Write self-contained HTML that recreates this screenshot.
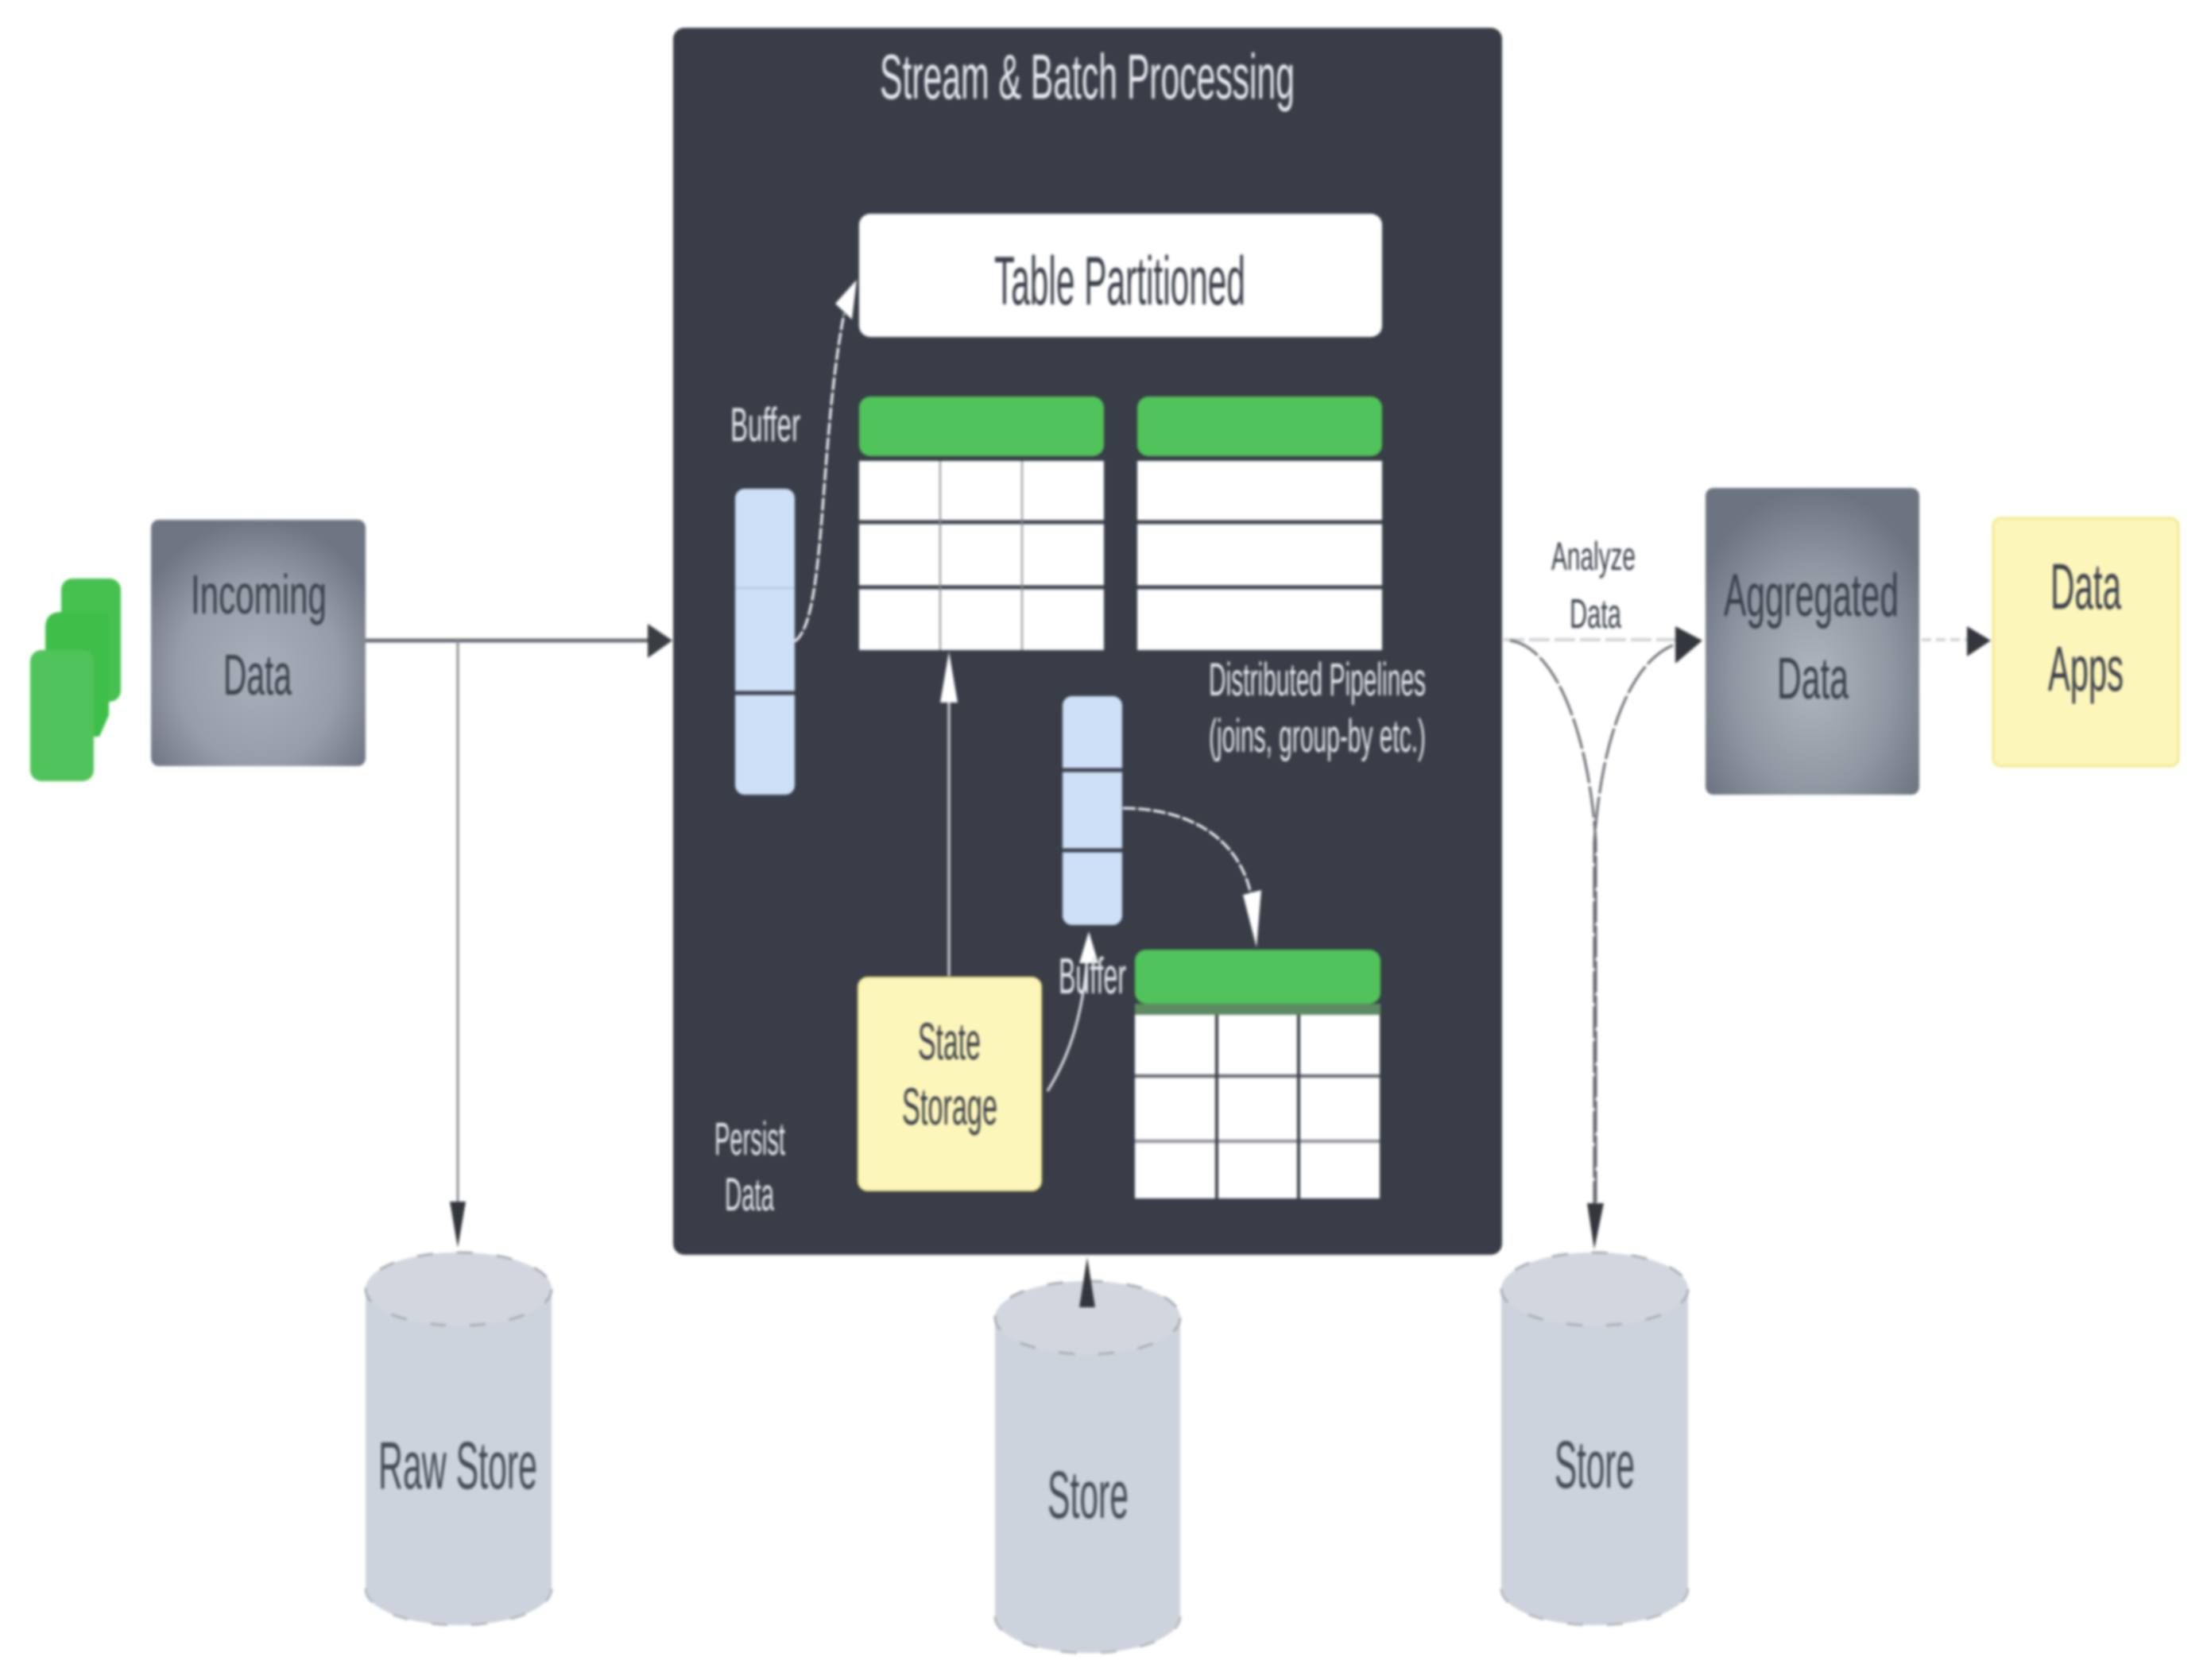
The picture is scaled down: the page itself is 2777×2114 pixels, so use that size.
<!DOCTYPE html>
<html><head><meta charset="utf-8"><style>
html,body{margin:0;padding:0;background:#fff;width:2777px;height:2114px;overflow:hidden}
svg{display:block;filter:blur(1.6px)}
text{font-family:"Liberation Sans",sans-serif}
.d{fill:#3a3f4a}.w{fill:#e6e8ec}
</style></head><body>
<svg width="2777" height="2114" viewBox="0 0 2777 2114" xmlns="http://www.w3.org/2000/svg">
<defs>
<radialGradient id="g1" cx="50%" cy="62%" r="62%"><stop offset="0" stop-color="#a9b0bb"/><stop offset=".6" stop-color="#979ea9"/><stop offset="1" stop-color="#6f7683"/></radialGradient>
<radialGradient id="g2" cx="50%" cy="62%" r="62%"><stop offset="0" stop-color="#b0b6bf"/><stop offset=".6" stop-color="#8f97a2"/><stop offset="1" stop-color="#6c7480"/></radialGradient>
</defs>

<!-- source stack -->
<rect x="77" y="728" width="75" height="155" rx="14" fill="#46c14f"/>
<path d="M57 790Q57 770 77 770H137V900L125 927H57Z" fill="#3fbf4a"/>
<rect x="38" y="818" width="80" height="165" rx="14" fill="#50c35a"/>

<!-- incoming -->
<rect x="190" y="654" width="270" height="310" rx="10" fill="url(#g1)"/>
<text class="d" x="240" y="772" font-size="70" textLength="171" lengthAdjust="spacingAndGlyphs">Incoming</text>
<text class="d" x="281" y="874" font-size="72" textLength="86" lengthAdjust="spacingAndGlyphs">Data</text>

<!-- main line -->
<path d="M460 806H815" stroke="#6b6e75" stroke-width="5" fill="none"/>
<path d="M815 785L846 806L815 828Z" fill="#3a3d44"/>
<path d="M576 806V1520" stroke="#8a8d93" stroke-width="3" fill="none"/>
<path d="M566 1512L586 1512L576 1570Z" fill="#33363c"/>

<!-- panel -->
<rect x="847" y="35" width="1043" height="1544" rx="14" fill="#383d47"/>
<text class="w" x="1107" y="124" font-size="80" textLength="522" lengthAdjust="spacingAndGlyphs">Stream &amp; Batch Processing</text>

<rect x="1081" y="269" width="658" height="155" rx="14" fill="#fff"/>
<text class="d" x="1251" y="383" font-size="86" textLength="316" lengthAdjust="spacingAndGlyphs">Table Partitioned</text>

<!-- top tables -->
<rect x="1081" y="499" width="308" height="75" rx="14" fill="#50c35a"/>
<rect x="1431" y="499" width="308" height="75" rx="14" fill="#50c35a"/>
<rect x="1081" y="580" width="308" height="238" fill="#fff"/>
<rect x="1431" y="580" width="308" height="238" fill="#fff"/>
<path d="M1081 657H1389M1081 739H1389M1431 657H1739M1431 739H1739" stroke="#3a3f4a" stroke-width="5"/>
<path d="M1183 580V818M1286 580V818" stroke="#8a8e96" stroke-width="2"/>

<!-- left buffer -->
<rect x="925" y="615" width="75" height="385" rx="12" fill="#cde0f7"/>
<path d="M925 740H1000" stroke="#b4c4d8" stroke-width="2"/>
<path d="M925 872H1000" stroke="#3a3f4a" stroke-width="5"/>
<text class="w" x="919" y="555" font-size="60" textLength="88" lengthAdjust="spacingAndGlyphs">Buffer</text>
<path d="M1000 807C1040 780 1030 560 1062 395" stroke="#fff" stroke-width="3" stroke-dasharray="16 3" fill="none"/>
<path d="M1078 352L1072 402L1051 382Z" fill="#fff"/>

<!-- right buffer -->
<rect x="1337" y="876" width="75" height="288" rx="12" fill="#cde0f7"/>
<path d="M1337 969H1412M1337 1070H1412" stroke="#3a3f4a" stroke-width="5"/>
<path d="M1413 1017C1490 1017 1560 1050 1575 1130" stroke="#fff" stroke-width="3" stroke-dasharray="16 3" fill="none"/>
<path d="M1564 1126L1587 1120L1581 1192Z" fill="#fff"/>

<text class="w" x="1521" y="875" font-size="58" textLength="273" lengthAdjust="spacingAndGlyphs">Distributed Pipelines</text>
<text class="w" x="1521" y="946" font-size="58" textLength="273" lengthAdjust="spacingAndGlyphs">(joins, group-by etc.)</text>

<!-- state storage -->
<path d="M1194 1228V880" stroke="#d8dade" stroke-width="3" fill="none"/>
<path d="M1194 820L1205 884H1183Z" fill="#fff"/>
<path d="M1318 1373C1345 1330 1362 1280 1368 1205" stroke="#e6e8ec" stroke-width="3" fill="none"/>
<path d="M1370 1172L1382 1212H1358Z" fill="#fff"/>
<text class="w" x="1332" y="1250" font-size="64" textLength="85" lengthAdjust="spacingAndGlyphs">Buffer</text>
<rect x="1080" y="1230" width="230" height="268" rx="12" fill="#fdf6ba" stroke="#f0e68c" stroke-width="2"/>
<text class="d" x="1155" y="1333" font-size="66" textLength="79" lengthAdjust="spacingAndGlyphs">State</text>
<text class="d" x="1135" y="1415" font-size="66" textLength="120" lengthAdjust="spacingAndGlyphs">Storage</text>
<text class="w" x="899" y="1453" font-size="58" textLength="89" lengthAdjust="spacingAndGlyphs">Persist</text>
<text class="w" x="912" y="1523" font-size="58" textLength="62" lengthAdjust="spacingAndGlyphs">Data</text>

<!-- lower table -->
<rect x="1428" y="1195" width="309" height="68" rx="14" fill="#50c35a"/>
<rect x="1428" y="1263" width="309" height="14" fill="#5d8a62"/>
<rect x="1428" y="1277" width="308" height="231" fill="#fff"/>
<path d="M1428 1354H1736" stroke="#5a5e68" stroke-width="4"/>
<path d="M1428 1436H1736" stroke="#8a8e96" stroke-width="4"/>
<path d="M1531 1277V1508M1634 1277V1508" stroke="#3a3f4a" stroke-width="4"/>

<!-- cylinders -->
<g fill="#cdd3dc">
<path d="M460 1622A117 46 0 0 1 694 1622V1999A117 46 0 0 1 460 1999Z"/>
<path d="M1252 1658A116.500 46 0 0 1 1485 1658V2034A116.500 46 0 0 1 1252 2034Z"/>
<path d="M1889 1622A117.500 46 0 0 1 2124 1622V1999A117.500 46 0 0 1 1889 1999Z"/>
</g>
<g fill="#d2d7df" stroke="#a9adb5" stroke-width="3" stroke-dasharray="20 30">
<ellipse cx="577" cy="1622" rx="117" ry="46"/>
<ellipse cx="1368.500" cy="1658" rx="116.500" ry="46"/>
<ellipse cx="2006.500" cy="1622" rx="117.500" ry="46"/>
</g>
<path d="M460 1999A117 46 0 0 0 694 1999M1252 2034A116.500 46 0 0 0 1485 2034M1889 1999A117.500 46 0 0 0 2124 1999" fill="none" stroke="#b4b8bf" stroke-width="3" stroke-dasharray="20 30"/>
<text class="d" x="476" y="1873" font-size="84" textLength="200" lengthAdjust="spacingAndGlyphs" opacity=".92">Raw Store</text>
<text class="d" x="1318" y="1910" font-size="84" textLength="102" lengthAdjust="spacingAndGlyphs" opacity=".92">Store</text>
<text class="d" x="1956" y="1872" font-size="84" textLength="101" lengthAdjust="spacingAndGlyphs" opacity=".92">Store</text>

<!-- center store arrow -->
<path d="M1368 1582L1378 1645H1358Z" fill="#33363c"/>

<!-- right connectors -->
<path d="M1892 805H2110" stroke="#d0d2d6" stroke-width="4" stroke-dasharray="26 6" fill="none"/>
<path d="M2108 788L2142 806L2108 835Z" fill="#33363c"/>
<path d="M1900 806C1960 815 2000 930 2008 1060V1520" stroke="#63666d" stroke-width="3" stroke-dasharray="40 4" fill="none"/>
<path d="M2105 812C2050 835 2015 930 2006 1060V1520" stroke="#63666d" stroke-width="3" stroke-dasharray="40 4" fill="none"/>
<path d="M1997 1514H2018L2006 1572Z" fill="#33363c"/>
<text class="d" x="1952" y="717" font-size="50" textLength="106" lengthAdjust="spacingAndGlyphs">Analyze</text>
<text class="d" x="1975" y="790" font-size="52" textLength="65" lengthAdjust="spacingAndGlyphs">Data</text>

<!-- aggregated -->
<rect x="2146" y="614" width="269" height="386" rx="10" fill="url(#g2)"/>
<text class="d" x="2169" y="775" font-size="76" textLength="220" lengthAdjust="spacingAndGlyphs">Aggregated</text>
<text class="d" x="2236" y="879" font-size="74" textLength="90" lengthAdjust="spacingAndGlyphs">Data</text>

<path d="M2418 805H2478" stroke="#d0d2d6" stroke-width="4" stroke-dasharray="12 6" fill="none"/>
<path d="M2475 788L2505 806L2475 826Z" fill="#33363c"/>

<!-- data apps -->
<rect x="2508" y="652" width="233" height="312" rx="10" fill="#fdf6ba" stroke="#f2e88c" stroke-width="3"/>
<text class="d" x="2580" y="766" font-size="82" textLength="89" lengthAdjust="spacingAndGlyphs">Data</text>
<text class="d" x="2577" y="869" font-size="80" textLength="95" lengthAdjust="spacingAndGlyphs">Apps</text>
</svg>
</body></html>
